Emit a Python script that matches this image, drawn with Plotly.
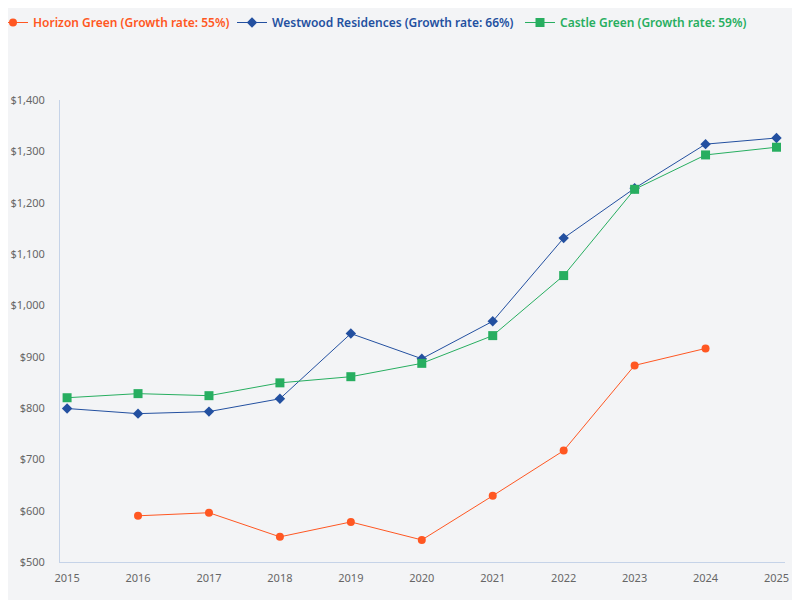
import plotly.graph_objects as go

years = list(range(2015, 2026))
horizon = [None, 590, 596, 549, 578, 543, 629, 717, 883, 916, None]
westwood = [799, 789, 793, 818, 945, 896, 969, 1131, 1228, 1314, 1326]
castle = [820, 828, 824, 849, 861, 887, 941, 1058, 1226, 1293, 1308]

names = ["Horizon Green (Growth rate: 55%)",
         "Westwood Residences (Growth rate: 66%)",
         "Castle Green (Growth rate: 59%)"]
colors = ["#FF5722", "#2350A0", "#27AE60"]
symbols = ["circle", "diamond", "square"]
sizes = [8, 8, 9]
series = [horizon, westwood, castle]
legend_ids = ["legend", "legend2", "legend3"]
legend_x = [0.0, 0.28, 0.64]
legend_indent = [-15, 0, 0]

fig = go.Figure()
for name, vals, c, s, sz, lid in zip(names, series, colors, symbols, sizes, legend_ids):
    fig.add_trace(go.Scatter(
        x=years, y=vals, name=name, mode="lines+markers",
        line=dict(color=c, width=1),
        marker=dict(symbol=s, size=sz, color=c),
        connectgaps=False, legend=lid,
    ))

bg = "#F3F4F6"
axis_col = "#C5D3E8"
legends = {}
for lid, lx, ind, c in zip(legend_ids, legend_x, legend_indent, colors):
    legends[lid] = dict(orientation="h", xref="container", yref="container",
                        x=lx, y=1.0, xanchor="left", yanchor="top",
                        indentation=ind,
                        font=dict(size=12, family="Noto Sans", weight=600, color=c),
                        itemwidth=30, bgcolor="rgba(0,0,0,0)")

fig.update_layout(
    width=800, height=600,
    paper_bgcolor=bg, plot_bgcolor=bg,
    margin=dict(l=52, r=23, t=92, b=46),
    font=dict(family="Noto Sans", size=11, color="#666666"),
    showlegend=True,
    **legends,
    xaxis=dict(range=[2014.9, 2025.12], tickmode="array", tickvals=years,
               ticktext=[str(y) for y in years], showgrid=False, zeroline=False,
               showline=True, linecolor=axis_col, linewidth=1, ticks="",
               ticklabelstandoff=6, automargin=False),
    yaxis=dict(range=[500, 1400], dtick=100, tickprefix="$", tickformat=",",
               showgrid=False, zeroline=False, showline=True, linecolor=axis_col,
               linewidth=1, ticks="", ticklabelstandoff=12, automargin=False),
)

fig.write_html("out.html")
